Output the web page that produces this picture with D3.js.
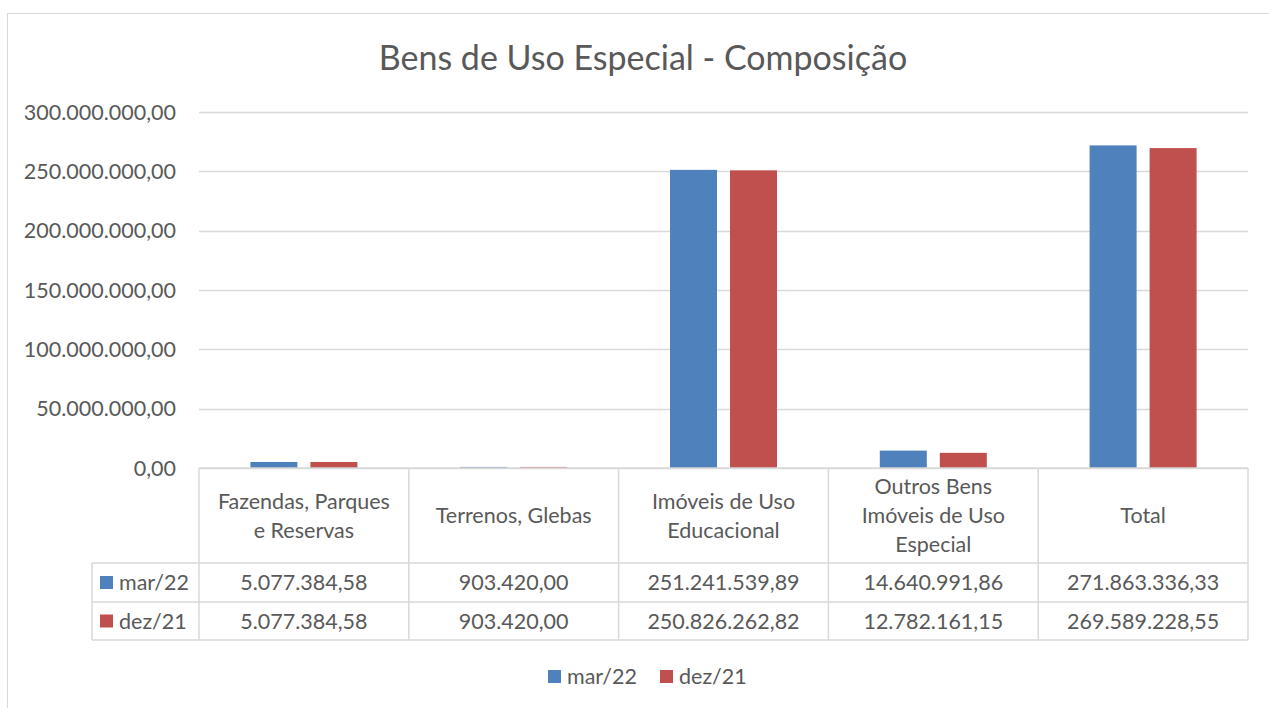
<!DOCTYPE html>
<html>
<head>
<meta charset="utf-8">
<script src="https://cdn.jsdelivr.net/npm/d3@7"></script>
<style>
  body { margin: 0; background: #fff; }
  text { font-family: Lato, "Open Sans", sans-serif; fill: #595959; }
</style>
</head>
<body>
<div id="viz"></div>
<script>
// data
const categories = ["Fazendas, Parques\ne Reservas", "Terrenos, Glebas", "Imóveis de Uso\nEducacional", "Outros Bens\nImóveis de Uso\nEspecial", "Total"];
const series     = ["mar/22", "dez/21"];
const mar22      = [5077384.58, 903420.00, 251241539.89, 14640991.86, 271863336.33];
const dez21      = [5077384.58, 903420.00, 250826262.82, 12782161.15, 269589228.55];
const y_ticks    = [0, 50000000, 100000000, 150000000, 200000000, 250000000, 300000000];
const title      = "Bens de Uso Especial - Composição";

const colors   = ["#4F81BD", "#C0504D"],
      line_col = "#D9D9D9",
      font_sz  = "21.5px",
      width    = 1269,
      height   = 708,
      plot     = {left: 199, right: 1248, top: 112, bottom: 468},
      rows     = {header: 563, r1: 602, r2: 640},
      leg_x    = 92;

const values = [mar22, dez21];
const br = d3.formatLocale({decimal: ",", thousands: ".", grouping: [3], currency: ["", ""]}).format(",.2f");

const svg = d3.select("#viz").html('')
  .append("svg")
  .attr("width", width)
  .attr("height", height);

// chart frame
svg.append("rect")
  .attr("x", 7.5).attr("y", 13.5)
  .attr("width", width + 20).attr("height", height + 20)
  .style("fill", "none").style("stroke", line_col);

svg.append("text")
  .attr("x", 643).attr("y", 58)
  .attr("dy", "0.35em")
  .attr("text-anchor", "middle")
  .style("font-size", "34px")
  .text(title);

const y  = d3.scaleLinear().domain([0, 300000000]).range([plot.bottom, plot.top]);
const x0 = d3.scaleBand().domain(categories).range([plot.left, plot.right]);
const group_w = 107;
const x1 = d3.scaleBand().domain(series).range([0, group_w]).paddingInner(13 / 60);

// gridlines + y labels
const grid = svg.append("g");
grid.selectAll("line")
  .data(y_ticks)
  .join("line")
  .attr("x1", plot.left).attr("x2", plot.right)
  .attr("y1", d => Math.round(y(d)) + 0.5).attr("y2", d => Math.round(y(d)) + 0.5)
  .style("stroke", line_col).style("stroke-width", 1.5);

grid.selectAll("text")
  .data(y_ticks)
  .join("text")
  .attr("x", 176).attr("y", d => y(d))
  .attr("dy", "0.35em")
  .attr("text-anchor", "end")
  .style("font-size", font_sz)
  .text(d => br(d));

// bars
series.forEach((s, i) => {
  svg.append("g")
    .selectAll("rect")
    .data(categories)
    .join("rect")
    .attr("x", c => x0(c) + (x0.bandwidth() - group_w) / 2 + x1(s))
    .attr("width", x1.bandwidth())
    .attr("y", (c, j) => y(values[i][j]))
    .attr("height", (c, j) => y(0) - y(values[i][j]))
    .style("fill", colors[i]);
});

// data table
const table = svg.append("g").style("stroke", line_col).style("stroke-width", 1.5);
[rows.header, rows.r1, rows.r2].forEach(yy => {
  table.append("line").attr("x1", leg_x).attr("x2", plot.right).attr("y1", yy).attr("y2", yy);
});
table.append("line").attr("x1", plot.left).attr("x2", plot.right).attr("y1", plot.bottom).attr("y2", plot.bottom);
table.append("line").attr("x1", leg_x).attr("x2", leg_x).attr("y1", rows.header).attr("y2", rows.r2);
table.selectAll(".v")
  .data(categories.concat([null]))
  .join("line")
  .attr("x1", c => c === null ? plot.right : x0(c))
  .attr("x2", c => c === null ? plot.right : x0(c))
  .attr("y1", plot.bottom).attr("y2", rows.r2);

// category headers
const head_mid = (plot.bottom + rows.header) / 2;
categories.forEach(c => {
  const lines = c.split("\n");
  svg.append("text")
    .attr("text-anchor", "middle")
    .style("font-size", font_sz)
    .selectAll("tspan")
    .data(lines)
    .join("tspan")
    .attr("x", x0(c) + x0.bandwidth() / 2)
    .attr("y", (l, k) => head_mid + (k - (lines.length - 1) / 2) * 29)
    .attr("dy", "0.35em")
    .text(l => l);
});

// value rows
const row_mid = [(rows.header + rows.r1) / 2, (rows.r1 + rows.r2) / 2];
series.forEach((s, i) => {
  svg.append("rect")
    .attr("x", 100).attr("y", row_mid[i] - 6.5)
    .attr("width", 13).attr("height", 13)
    .style("fill", colors[i]);
  svg.append("text")
    .attr("x", 119).attr("y", row_mid[i])
    .attr("dy", "0.35em")
    .style("font-size", font_sz)
    .text(s);
  svg.append("g")
    .selectAll("text")
    .data(categories)
    .join("text")
    .attr("x", c => x0(c) + x0.bandwidth() / 2)
    .attr("y", row_mid[i])
    .attr("dy", "0.35em")
    .attr("text-anchor", "middle")
    .style("font-size", font_sz)
    .text((c, j) => br(values[i][j]));
});

// legend
const legend_x = [548, 660];
series.forEach((s, i) => {
  svg.append("rect")
    .attr("x", legend_x[i]).attr("y", 670)
    .attr("width", 13).attr("height", 13)
    .style("fill", colors[i]);
  svg.append("text")
    .attr("x", legend_x[i] + 19).attr("y", 676.5)
    .attr("dy", "0.35em")
    .style("font-size", font_sz)
    .text(s);
});
</script>
</body>
</html>
